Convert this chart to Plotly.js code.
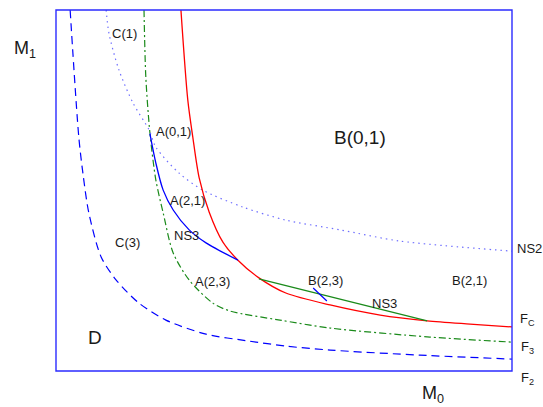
<!DOCTYPE html>
<html>
<head>
<meta charset="utf-8">
<script src="https://cdn.plot.ly/plotly-3.0.1.min.js"></script>
<style>html,body{margin:0;padding:0;background:#fff;}#chart{width:543px;height:407px;}</style>
</head>
<body>
<div id="chart"></div>
<script>
// Curve F_C (red solid)
const fcX = [2.74, 2.89, 3.00, 3.14, 3.36, 3.66, 3.99, 4.45, 5.04, 6.01, 7.11, 8.14, 9.08, 10.0];
const fcY = [10.0, 7.51, 6.48, 5.35, 4.40, 3.57, 3.07, 2.58, 2.16, 1.83, 1.55, 1.39, 1.30, 1.22];
// Curve F_2 (blue dashed)
const f2X = [0.31, 0.50, 0.59, 0.72, 0.99, 1.32, 1.82, 2.41, 3.29, 4.23, 5.04, 6.01, 7.98, 10.0];
const f2Y = [10.0, 6.48, 5.48, 4.38, 3.16, 2.52, 1.88, 1.41, 1.02, 0.83, 0.69, 0.58, 0.44, 0.33];
// Curve F_3 (green dash-dot)
const f3X = [1.93, 1.97, 2.06, 2.19, 2.35, 2.57, 2.92, 3.44, 3.82, 4.91, 6.01, 8.20, 10.0];
const f3Y = [10.0, 8.14, 6.59, 5.29, 4.38, 3.27, 2.52, 1.88, 1.66, 1.41, 1.19, 0.94, 0.80];
// Curve NS2 (blue dotted)
const ns2X = [1.10, 1.16, 1.38, 1.69, 2.04, 2.19, 2.70, 3.22, 4.10, 5.04, 6.23, 7.54, 10.0];
const ns2Y = [10.0, 9.36, 8.34, 7.42, 6.68, 6.20, 5.48, 5.01, 4.54, 4.18, 3.91, 3.60, 3.32];
// Boundary A(0,1) -> F_C (blue solid)
const ns3aX = [2.06, 2.19, 2.35, 2.57, 2.92, 3.29, 3.99];
const ns3aY = [6.57, 5.76, 5.01, 4.46, 3.91, 3.55, 3.07];
// NS3 segment (green solid)
const ns3bX = [4.45, 8.14];
const ns3bY = [2.55, 1.39];
// small blue tick at B(2,3)
const tickX = [5.64, 5.94];
const tickY = [2.30, 1.94];

// Region labels inside the plot
const labelText = ["C(1)", "A(0,1)", "A(2,1)", "NS3", "C(3)", "A(2,3)", "B(2,3)", "NS3", "B(2,1)"];
const labelX = [1.51, 2.57, 2.89, 2.87, 1.56, 3.44, 5.92, 7.21, 9.06];
const labelY = [9.36, 6.64, 4.71, 3.74, 3.55, 2.47, 2.52, 1.88, 2.52];
const bigText = ["B(0,1)", "D"];
const bigX = [6.67, 0.86];
const bigY = [6.48, 0.94];
// Curve-end labels beyond the right edge
const endText = ["NS2", "F<sub>C</sub>", "F<sub>3</sub>", "F<sub>2</sub>"];
const endX = [10.39, 10.33, 10.33, 10.33];
const endY = [3.38, 1.44, 0.64, -0.22];
// Axis names
const axisText = ["M<sub>1</sub>", "M<sub>0</sub>"];
const axisX = [-0.68, 8.27];
const axisY = [8.90, -0.66];

const xRange = [0, 10], yRange = [0, 10];
const px = v => (v - xRange[0]) / (xRange[1] - xRange[0]);
const py = v => (v - yRange[0]) / (yRange[1] - yRange[0]);

const traces = [
  {x: f2X, y: f2Y, mode: 'lines', line: {color: '#0000ff', width: 1.2, dash: '8px,5px', shape: 'spline', smoothing: 0.8}},
  {x: f3X, y: f3Y, mode: 'lines', line: {color: '#1a8a1a', width: 1.2, dash: '7px,3px,2px,3px', shape: 'spline', smoothing: 0.8}},
  {x: ns2X, y: ns2Y, mode: 'lines', line: {color: '#6f6fff', width: 1.2, dash: '1.5px,4px', shape: 'spline', smoothing: 0.8}},
  {x: fcX, y: fcY, mode: 'lines', line: {color: '#ff0000', width: 1.3, shape: 'spline', smoothing: 0.8}},
  {x: ns3aX, y: ns3aY, mode: 'lines', line: {color: '#0000ff', width: 1.3, shape: 'spline', smoothing: 0.8}},
  {x: ns3bX, y: ns3bY, mode: 'lines', line: {color: '#1a8a1a', width: 1.3}},
  {x: tickX, y: tickY, mode: 'lines', line: {color: '#0000ff', width: 1.2}}
];

const font = 'Liberation Sans, Arial, sans-serif';
const ink = '#1a1a1a';
const annotations = [];
const ann = (x, y, ref, t, size) => annotations.push({x: x, y: y, xref: ref[0], yref: ref[1], text: t, showarrow: false,
  xanchor: 'center', yanchor: 'middle', font: {family: font, size: size, color: ink}});
labelText.forEach((t, i) => ann(labelX[i], labelY[i], ['x', 'y'], t, 13));
bigText.forEach((t, i) => ann(bigX[i], bigY[i], ['x', 'y'], t, 19));
endText.forEach((t, i) => ann(px(endX[i]), py(endY[i]), ['paper', 'paper'], t, 13));
axisText.forEach((t, i) => ann(px(axisX[i]), py(axisY[i]), ['paper', 'paper'], t, 18));

const layout = {
  width: 543, height: 407,
  margin: {l: 56, r: 31, t: 10, b: 36, pad: 0},
  paper_bgcolor: '#ffffff', plot_bgcolor: '#ffffff',
  showlegend: false,
  xaxis: {range: xRange, showgrid: false, zeroline: false, showticklabels: false, ticks: '', showline: false},
  yaxis: {range: yRange, showgrid: false, zeroline: false, showticklabels: false, ticks: '', showline: false},
  shapes: [{type: 'rect', xref: 'paper', yref: 'paper', x0: 0, x1: 1, y0: 0, y1: 1, layer: 'above',
    line: {color: '#2b2bff', width: 1.4}, fillcolor: 'rgba(0,0,0,0)'}],
  annotations: annotations
};

Plotly.newPlot('chart', traces, layout, {staticPlot: true, displayModeBar: false});
</script>
</body>
</html>
